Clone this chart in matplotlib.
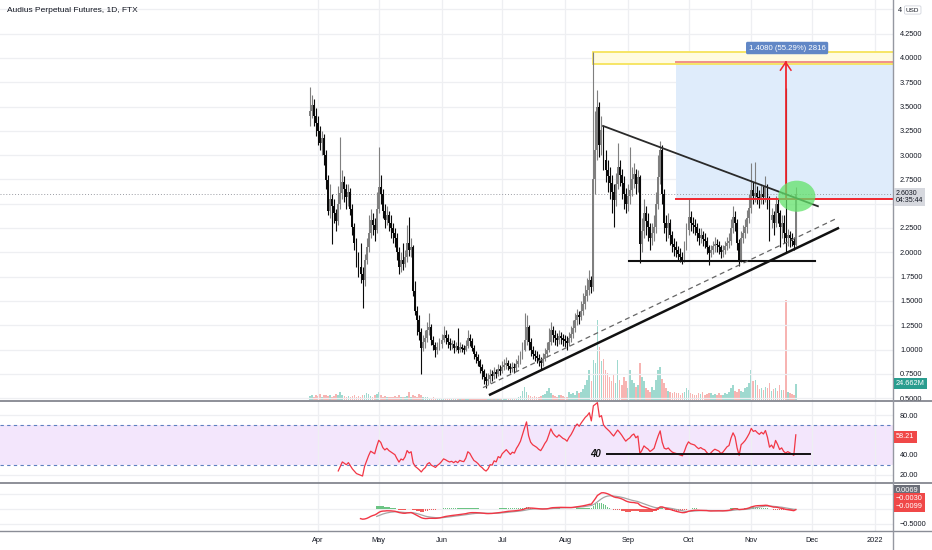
import numpy as np
import pandas as pd
import matplotlib
matplotlib.use('Agg')
import matplotlib.pyplot as plt
from matplotlib.patches import Rectangle, Ellipse
from matplotlib.lines import Line2D
from matplotlib.transforms import blended_transform_factory

plt.rcParams['font.family'] = ['Liberation Sans', 'DejaVu Sans']

# ---------------- data (daily, day 0 = 2021-03-28) ----------------
first_open = 3.40
close = [3.45, 3.52, 3.40, 3.33, 3.25, 3.12, 3.18, 3.00, 2.74, 2.43,
         2.55, 2.48, 2.40, 2.32, 2.50, 2.61, 2.72, 2.65, 2.57, 2.62,
         2.45, 2.26, 2.10, 1.92, 1.85, 1.78, 1.71, 1.92, 2.05, 2.20,
         2.33, 2.28, 2.23, 2.45, 2.67, 2.60, 2.42, 2.33, 2.38, 2.30,
         2.25, 2.20, 2.15, 2.00, 1.85, 1.92, 1.88, 1.95, 2.10, 2.02,
         2.05, 1.60, 1.40, 1.30, 1.18, 1.02, 1.08, 1.12, 1.20, 1.23,
         1.10, 1.05, 0.99, 1.03, 1.06, 1.10, 1.15, 1.12, 1.08, 1.05,
         1.06, 1.02, 1.04, 1.00, 1.03, 1.01, 1.00, 1.04, 1.12, 1.09,
         1.02, 0.95, 0.92, 0.88, 0.82, 0.78, 0.72, 0.68, 0.70, 0.74,
         0.73, 0.77, 0.75, 0.80, 0.78, 0.82, 0.84, 0.86, 0.83, 0.80,
         0.82, 0.81, 0.85, 0.88, 0.92, 1.00, 1.10, 1.23, 1.08, 0.99,
         0.95, 0.93, 0.91, 0.88, 0.86, 0.90, 0.95, 0.99, 1.08, 1.20,
         1.15, 1.12, 1.10, 1.14, 1.12, 1.10, 1.09, 1.07, 1.12, 1.16,
         1.22, 1.30, 1.35, 1.33, 1.40, 1.47, 1.55, 1.61, 1.72, 1.64,
         2.75, 3.05, 3.50, 3.10, 3.26, 2.95, 2.85, 2.78, 2.71, 2.62,
         2.54, 2.70, 2.88, 2.80, 2.71, 2.60, 2.50, 2.58, 2.64, 2.75,
         2.81, 2.70, 2.77, 2.09, 2.22, 2.40, 2.32, 2.26, 2.15, 2.20,
         2.26, 2.50, 2.77, 3.05, 2.60, 2.30, 2.25, 2.30, 2.18, 2.09,
         2.05, 2.02, 1.98, 1.95, 1.92, 2.05, 2.23, 2.36, 2.30, 2.28,
         2.26, 2.20, 2.15, 2.18, 2.14, 2.12, 2.05, 1.99, 2.02, 2.06,
         2.09, 2.07, 2.05, 2.00, 2.02, 2.06, 2.10, 2.12, 2.25, 2.36,
         2.30, 2.10, 1.92, 2.15, 2.20, 2.26, 2.35, 2.46, 2.64, 2.58,
         2.61, 2.57, 2.54, 2.60, 2.57, 2.67, 2.55, 2.33, 2.38, 2.30,
         2.50, 2.40, 2.26, 2.30, 2.20, 2.15, 2.18, 2.15, 2.12, 2.08,
         2.603]
high = [3.70, 3.62, 3.58, 3.48, 3.40, 3.30, 3.25, 3.22, 3.05, 2.80,
        2.70, 2.60, 2.55, 2.45, 2.68, 3.19, 2.85, 2.78, 2.70, 2.70,
        2.66, 2.50, 2.30, 2.15, 2.00, 2.10, 1.85, 1.98, 2.15, 2.38,
        2.45, 2.40, 2.35, 2.62, 3.08, 2.80, 2.65, 2.50, 2.48, 2.42,
        2.38, 2.30, 2.25, 2.20, 2.05, 2.00, 2.10, 2.02, 2.28, 2.36,
        2.15, 2.08, 1.70, 1.45, 1.35, 1.22, 1.15, 1.20, 1.28, 1.38,
        1.26, 1.14, 1.08, 1.08, 1.12, 1.16, 1.24, 1.20, 1.16, 1.12,
        1.10, 1.10, 1.08, 1.22, 1.08, 1.06, 1.05, 1.10, 1.20, 1.16,
        1.12, 1.05, 0.98, 0.95, 0.90, 0.85, 0.80, 0.76, 0.76, 0.80,
        0.79, 0.82, 0.80, 0.85, 0.84, 0.88, 0.90, 0.92, 0.89, 0.86,
        0.87, 0.86, 0.90, 0.94, 0.98, 1.08, 1.38, 1.36, 1.25, 1.12,
        1.04, 1.00, 0.98, 0.95, 0.92, 0.96, 1.02, 1.08, 1.22, 1.28,
        1.24, 1.20, 1.17, 1.20, 1.18, 1.16, 1.15, 1.14, 1.18, 1.24,
        1.30, 1.38, 1.42, 1.40, 1.50, 1.58, 1.66, 1.74, 1.82, 1.76,
        4.06, 3.45, 3.67, 3.55, 3.40, 3.30, 3.05, 2.95, 2.88, 2.80,
        2.70, 2.82, 3.12, 2.95, 2.86, 2.78, 2.66, 2.70, 3.08, 2.88,
        2.92, 2.86, 2.85, 2.80, 2.35, 2.55, 2.48, 2.40, 2.30, 2.30,
        2.38, 2.62, 3.00, 3.15, 3.10, 2.65, 2.38, 2.40, 2.34, 2.22,
        2.15, 2.12, 2.06, 2.04, 2.00, 2.12, 2.30, 2.55, 2.42, 2.36,
        2.34, 2.30, 2.25, 2.25, 2.22, 2.20, 2.16, 2.08, 2.08, 2.12,
        2.16, 2.14, 2.12, 2.08, 2.08, 2.12, 2.16, 2.20, 2.34, 2.48,
        2.42, 2.34, 2.14, 2.22, 2.28, 2.34, 2.44, 2.60, 2.92, 2.72,
        2.93, 2.68, 2.64, 2.70, 2.68, 2.78, 2.70, 2.58, 2.46, 2.42,
        2.58, 2.55, 2.44, 2.38, 2.38, 3.69, 2.24, 2.22, 2.20, 2.16,
        2.67]
low = [3.30, 3.38, 3.30, 3.20, 3.10, 3.05, 3.00, 2.90, 2.65, 2.38,
       2.35, 2.09, 2.30, 2.22, 2.28, 2.45, 2.55, 2.52, 2.45, 2.48,
       2.38, 2.18, 2.02, 1.85, 1.75, 1.68, 1.43, 1.65, 1.88, 2.00,
       2.15, 2.18, 2.12, 2.20, 2.40, 2.50, 2.35, 2.25, 2.28, 2.22,
       2.15, 2.10, 2.05, 1.92, 1.78, 1.80, 1.82, 1.85, 1.90, 1.96,
       1.95, 1.55, 1.35, 1.15, 1.10, 0.75, 0.98, 1.02, 1.08, 1.15,
       1.05, 1.00, 0.92, 0.95, 1.00, 1.02, 1.08, 1.06, 1.02, 1.00,
       1.01, 0.96, 0.98, 0.96, 0.97, 0.97, 0.95, 0.98, 1.02, 1.04,
       0.98, 0.90, 0.86, 0.83, 0.76, 0.70, 0.65, 0.60, 0.63, 0.66,
       0.68, 0.70, 0.71, 0.73, 0.74, 0.76, 0.79, 0.80, 0.79, 0.76,
       0.77, 0.76, 0.78, 0.82, 0.85, 0.90, 0.98, 1.05, 1.00, 0.93,
       0.90, 0.88, 0.86, 0.83, 0.80, 0.83, 0.88, 0.92, 0.97, 1.05,
       1.08, 1.05, 1.04, 1.06, 1.06, 1.04, 1.03, 1.00, 1.04, 1.08,
       1.12, 1.18, 1.25, 1.26, 1.30, 1.36, 1.42, 1.50, 1.56, 1.58,
       1.60, 2.60, 2.95, 2.98, 3.00, 2.85, 2.72, 2.62, 2.55, 2.40,
       2.26, 2.48, 2.65, 2.68, 2.55, 2.45, 2.40, 2.42, 2.50, 2.58,
       2.66, 2.60, 2.62, 1.89, 2.00, 2.15, 2.18, 2.12, 2.02, 2.08,
       2.12, 2.20, 2.45, 2.70, 2.50, 2.20, 2.12, 2.15, 2.08, 2.00,
       1.96, 1.95, 1.92, 1.90, 1.88, 1.90, 2.02, 2.18, 2.22, 2.20,
       2.18, 2.12, 2.08, 2.10, 2.06, 2.04, 1.98, 1.87, 1.95, 1.98,
       2.00, 2.00, 1.98, 1.94, 1.95, 1.98, 2.02, 2.04, 2.08, 2.20,
       2.22, 2.02, 1.86, 1.90, 2.10, 2.15, 2.20, 2.30, 2.40, 2.50,
       2.52, 2.50, 2.46, 2.50, 2.50, 2.52, 2.45, 2.12, 2.25, 2.18,
       2.26, 2.30, 2.05, 2.15, 2.10, 2.00, 2.06, 2.05, 2.06, 2.02,
       2.06]
volume = [6, 8, 5, 7, 6, 9, 5, 7, 8, 6,
          7, 5, 6, 9, 8, 12, 7, 6, 5, 6,
          5, 6, 7, 5, 6, 4, 7, 8, 10, 9,
          6, 5, 7, 9, 12, 7, 5, 6, 4, 5,
          5, 4, 6, 5, 7, 4, 5, 4, 6, 12,
          5, 7, 6, 5, 9, 7, 4, 5, 4, 3,
          3, 4, 3, 2, 3, 3, 2, 3, 2, 3,
          2, 2, 3, 2, 2, 3, 2, 2, 3, 2,
          2, 3, 2, 3, 3, 2, 3, 3, 2, 2,
          2, 3, 2, 3, 2, 3, 2, 3, 3, 2,
          3, 2, 3, 4, 6, 14, 20, 12, 8, 6,
          5, 6, 4, 5, 6, 7, 9, 13, 18, 10,
          7, 6, 5, 8, 7, 6, 4, 5, 12, 9,
          11, 8, 14, 10, 12, 16, 22, 30, 45, 28,
          60, 55, 120, 80, 58, 62, 45, 40, 35, 28,
          38, 25, 60, 30, 22, 35, 28, 18, 45, 30,
          25, 20, 22, 55, 35, 28, 18, 15, 12, 20,
          15, 30, 45, 50, 32, 25, 18, 14, 12, 10,
          12, 10, 11, 8, 10, 12, 18, 15, 10, 9,
          8, 7, 10, 9, 12, 8, 9, 11, 10, 8,
          9, 8, 10, 7, 8, 10, 9, 12, 18, 22,
          14, 12, 16, 14, 12, 18, 20, 26, 45, 28,
          30, 22, 16, 18, 15, 20, 18, 25, 14, 16,
          18, 14, 22, 15, 15, 150, 12, 10, 9, 8,
          24.662]

month_days = [4, 34, 65, 95, 126, 157, 187, 218, 248, 279]
month_labels = ['Apr', 'May', 'Jun', 'Jul', 'Aug', 'Sep', 'Oct', 'Nov', 'Dec', '2022']
price_ticks = [4.25, 4.0, 3.75, 3.5, 3.25, 3.0, 2.75, 2.25, 2.0, 1.75, 1.5, 1.25, 1.0, 0.75, 0.5]
price_grid = [4.5, 4.25, 4.0, 3.75, 3.5, 3.25, 3.0, 2.75, 2.5, 2.25, 2.0, 1.75, 1.5, 1.25, 1.0, 0.75, 0.5]
last_price = 2.603
rsi_last_label = '58.21'
macd_tags = ['0.0069', '\u22120.0030', '\u22120.0099']

# drawings (day index, price)
target_box = (139.8, 3.937, 4.06)
range_box = (180.8, 2.546, 3.954)
arrow_day = 235
desc_line = ([144.8, 250.9], [3.30, 2.474])
support_line = ([157.6, 249.4], [1.907, 1.907])
rise_line = ([89.0, 260.8], [0.536, 2.247])
rise_dash = ([85.5, 259.3], [0.608, 2.34])
ellipse = (240.5, 2.577, 18.3, 0.32)
rsi_line = ([146.7, 247.0], [40.8, 40.8])

# ---------------- indicators ----------------
N = len(close)
days = np.arange(N)
c = np.array(close)
o = np.array([first_open] + close[:-1])
h = np.array(high)
l = np.array(low)
v = np.array(volume)

delta = np.diff(c, prepend=np.nan)
gain = np.where(delta > 0, delta, 0.0)
loss = np.where(delta < 0, -delta, 0.0)
n = 14
ag = np.full(N, np.nan)
al = np.full(N, np.nan)
ag[n] = gain[1:n + 1].mean()
al[n] = loss[1:n + 1].mean()
for i in range(n + 1, N):
    ag[i] = (ag[i - 1] * (n - 1) + gain[i]) / n
    al[i] = (al[i - 1] * (n - 1) + loss[i]) / n
rsi = 100 - 100 / (1 + ag / al)

cs = pd.Series(c)
ema12 = cs.ewm(span=12, adjust=False).mean()
ema26 = cs.ewm(span=26, adjust=False).mean()
macd = (ema12 - ema26).values.copy()
macd[:25] = np.nan
sig = pd.Series(macd[25:]).ewm(span=9, adjust=False).mean().values
signal = np.full(N, np.nan)
signal[25:] = sig
signal[:33] = np.nan
hist = macd - signal

# ---------------- layout ----------------
W, H = 932, 550
fig = plt.figure(figsize=(W / 100, H / 100), dpi=100)
fig.patch.set_facecolor('white')


def fy(py):
    return 1 - py / H


XR = 893
ax = fig.add_axes([0, fy(400), XR / W, 400 / H])
rax = fig.add_axes([0, fy(483), XR / W, 83 / H])
max_ = fig.add_axes([0, fy(531), XR / W, 48 / H])

# volume on a twin axis behind the candles
axv = ax.twinx()
axv.set_ylim(0, 600)
axv.set_axis_off()
ax.set_zorder(axv.get_zorder() + 1)
ax.patch.set_visible(False)

xl = (-153.07, 288.0)
GRID = '#eeeff2'
TXT = '#131722'
FS = 5.3

for a in (ax, rax, max_):
    a.set_xlim(*xl)
    for s in a.spines.values():
        s.set_visible(False)
    a.set_xticks(month_days)
    a.yaxis.tick_right()
    a.yaxis.set_label_position('right')
    a.tick_params(axis='both', length=0, labelsize=FS, labelcolor=TXT)
    a.tick_params(axis='y', left=False, labelleft=False, right=True, labelright=True, pad=5)
    a.grid(True, axis='x', color=GRID, lw=0.9)
    a.set_axisbelow(True)
axv.set_xlim(*xl)
ax.set_xticklabels([])
rax.set_xticklabels([])
max_.set_xticklabels(month_labels)
max_.tick_params(axis='x', pad=4)

# ---- main panel ----
def p_of(y):
    return 1 + (349.5 - y) / 97.2

ax.set_ylim(p_of(400), p_of(0))
for g in price_grid:
    ax.axhline(g, color=GRID, lw=0.9, zorder=0)
ax.set_yticks(price_ticks)
ax.set_yticklabels([f'{t:.4f}' for t in price_ticks])

up = c >= o
vcol = np.where(up, '#9fd9cf', '#f7b4b2')
axv.bar(days, v, width=0.8, color=vcol, linewidth=0)

# blue range box & yellow target box
ax.add_patch(Rectangle((range_box[0], range_box[1]), 300, range_box[2] - range_box[1],
                       facecolor='#dfecfb', edgecolor='none', zorder=1))
ax.add_patch(Rectangle((target_box[0], target_box[1]), 300, target_box[2] - target_box[1],
                       facecolor='#fffbe0', edgecolor='#f6e35a', lw=1.3, zorder=1.5))
ax.plot([range_box[0], 300], [range_box[2], range_box[2]], color='#f0908a', lw=1.4, zorder=1.6)

# price line dotted
ax.axhline(last_price, color='#9a9ca3', lw=0.7, ls=(0, (1, 2)), zorder=1.2)

# candles
ccol = np.where(up, '#7f7f7f', '#0a0a0a')
ax.vlines(days, l, h, colors=ccol, lw=0.8, zorder=3)
body = np.maximum(np.abs(c - o), 0.014)
ax.bar(days, body, bottom=np.minimum(o, c), width=0.95, color=ccol, linewidth=0, zorder=4)

# red lines / arrow
ax.plot([range_box[0], 300], [range_box[1], range_box[1]], color='#f0262e', lw=1.4, zorder=5)
ax.plot([arrow_day, arrow_day], [range_box[1], range_box[2]], color='#f0262e', lw=1.3, zorder=5)
ax.plot([arrow_day - 2.6, arrow_day, arrow_day + 2.6],
        [range_box[2] - 0.08, range_box[2], range_box[2] - 0.08], color='#f0262e', lw=1.1, zorder=5)

# trend lines
ax.plot(*desc_line, color='#2a2a2a', lw=1.3, zorder=6)
ax.plot(*support_line, color='#111111', lw=1.5, zorder=6)
ax.plot(*rise_line, color='#111111', lw=1.8, zorder=6)
ax.plot(*rise_dash, color='#666666', lw=0.9, ls=(0, (4, 3)), zorder=6)

# green ellipse
ax.add_patch(Ellipse((ellipse[0], ellipse[1]), ellipse[2], ellipse[3],
                     facecolor='#62e26a', alpha=0.75, edgecolor='none', zorder=7))

# measure label
ax.text(235.7, p_of(48), '1.4080 (55.29%) 2816', ha='center', va='center', fontsize=5.6,
        color='white', zorder=8,
        bbox=dict(boxstyle='round,pad=0.35,rounding_size=0.2', fc='#6187c6', ec='none'))

# title
fig.text(7 / W, fy(11), 'Audius Perpetual Futures, 1D, FTX', fontsize=6, color=TXT,
         ha='left', va='center')

# top "4 USD"
fig.text(898 / W, fy(10), '4', fontsize=FS, color=TXT, ha='left', va='center')
fig.text(906 / W, fy(10), 'USD', fontsize=4.6, color=TXT, ha='left', va='center',
         bbox=dict(boxstyle='round,pad=0.25,rounding_size=0.2', fc='white', ec='#d1d4dc', lw=0.6))

trx = blended_transform_factory(fig.transFigure, ax.transData)
fig.text(896 / W, 2.57, '2.6030\n04:35:44', transform=trx, fontsize=5.0, color=TXT,
         ha='left', va='center', linespacing=1.1, zorder=10,
         bbox=dict(boxstyle='square,pad=0.3', fc='#d6d8de', ec='none'))

trv = blended_transform_factory(fig.transFigure, axv.transData)
fig.text(896 / W, volume[-1], '24.662M', transform=trv, fontsize=5.3, color='white',
         ha='left', va='center', zorder=10,
         bbox=dict(boxstyle='square,pad=0.3', fc='#2a9d8f', ec='none'))

# ---- RSI panel ----
def r_of(y):
    return 50 - (y - 445.5) / 0.975

rax.set_ylim(r_of(483), r_of(401))
for g in (20, 40, 60, 80):
    rax.axhline(g, color=GRID, lw=0.9, zorder=0)
rax.axhspan(30, 70, color='#f3e6fc', zorder=0.5, lw=0)
rax.axhline(70, color='#5d7fc0', lw=0.8, ls=(0, (3, 3)), zorder=1)
rax.axhline(30, color='#5d7fc0', lw=0.8, ls=(0, (3, 3)), zorder=1)
rax.plot(days, rsi, color='#f23645', lw=0.9, zorder=3)
rax.plot(*rsi_line, color='#111111', lw=1.4, zorder=4)
rax.text(141, 41.3, '40', fontsize=7, fontweight='bold', fontstyle='italic',
         color='#111111', ha='center', va='center')
rax.set_yticks([80, 40, 20])
rax.set_yticklabels(['80.00', '40.00', '20.00'])
trr = blended_transform_factory(fig.transFigure, rax.transData)
fig.text(896 / W, 58.21, rsi_last_label, transform=trr,
         fontsize=5.3, color='white', ha='left', va='center', zorder=10,
         bbox=dict(boxstyle='square,pad=0.3', fc='#f04848', ec='none'))

# ---- MACD panel ----
def m_of(y):
    return (509 - y) / 30.0

max_.set_ylim(m_of(531), m_of(483))
for g in (-0.5, 0.0, 0.5):
    max_.axhline(g, color=GRID, lw=0.9, zorder=0)
hcol = np.where(hist >= 0, '#6cc484', '#f05a5a')
max_.bar(days, np.nan_to_num(hist), width=0.8, color=hcol, linewidth=0, zorder=2)
max_.plot(days, signal, color='#a5a5a5', lw=0.9, zorder=3)
max_.plot(days, macd, color='#f23645', lw=1.0, zorder=4)
max_.set_yticks([-0.5])
max_.set_yticklabels(['\u22120.5000'])

for tag, yy, fc in zip(macd_tags, (490, 498.5, 507), ('#6b6e78', '#f04848', '#f04848')):
    fig.text(896 / W, fy(yy), tag, fontsize=5.3, color='white', ha='left', va='center',
             zorder=10, bbox=dict(boxstyle='square,pad=0.25', fc=fc, ec='none'))

# separators / axis lines
for yy, col, lw in ((400.5, '#7a7d86', 1.2), (483.0, '#7a7d86', 1.2), (531.0, '#8a8d96', 1.0)):
    fig.add_artist(Line2D([0, 1], [fy(yy), fy(yy)], color=col, lw=lw))
fig.add_artist(Line2D([XR / W, XR / W], [0, 1], color='#9598a1', lw=1.0))

fig.savefig('out.png', dpi=100, facecolor='white')
